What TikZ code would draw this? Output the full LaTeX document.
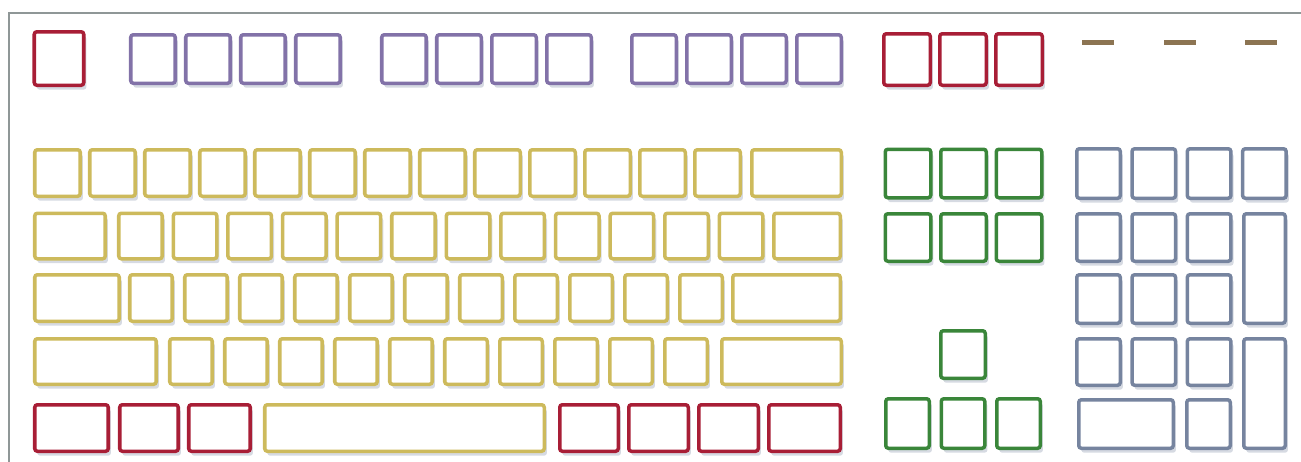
\documentclass[tikz,border=0pt]{standalone}
\usepackage{tikz}
\usetikzlibrary{shadows}
\usepackage{xcolor}
\definecolor{keyred}{HTML}{A81E36}
\definecolor{keypurple}{HTML}{8272A8}
\definecolor{keyyellow}{HTML}{CDBA5C}
\definecolor{keygreen}{HTML}{3A863A}
\definecolor{keyblue}{HTML}{76849F}
\definecolor{ledbrown}{HTML}{8C7452}
\definecolor{framegray}{HTML}{8F9797}

\begin{document}
\begin{tikzpicture}[
    x=0.02cm, y=-0.02cm,
    key/.style={draw=#1, line width=2pt, fill=white, rounded corners=1.5pt, inner sep=0pt, outer sep=0pt,
        drop shadow={shadow xshift=1.5pt, shadow yshift=-2.5pt, opacity=0.3, fill=keyblue}},
    kw/.style={minimum width={(#1-3.5)*0.02cm}},
    kh/.style={minimum height={(#1-3.5)*0.02cm}},
    led/.style={fill=ledbrown, minimum width=0.64cm, minimum height=0.1cm, inner sep=0pt},
]
\useasboundingbox (0,0) rectangle (1301,461);
\draw[framegray, line width=1.4pt] (1302,13) -- (9,13) -- (9,462);

% function row
\node[key=keyred, kw=53, kh=57] (Esc) at (59,58.5) {};
\foreach \i in {1,...,4} \node[key=keypurple, kw=48, kh=52] (F\i) at ({98+55*\i},59) {};
\foreach \i in {5,...,8} \node[key=keypurple, kw=48, kh=52] (F\i) at ({404+55*(\i-5)},59) {};
\foreach \i in {9,...,12} \node[key=keypurple, kw=48, kh=52] (F\i) at ({654+55*(\i-9)},59) {};
\foreach \n [count=\i from 0] in {Prt,Scr,Pau} \node[key=keyred, kw=50, kh=55] (\n) at ({907+56*\i},59.5) {};
\foreach \n/\x in {Num/1097.5,Caps/1179.5,Scroll/1260.5} \node[led] (L\n) at (\x,42.5) {};

% main block
\foreach \i in {0,...,12} \node[key=keyyellow, kw=49, kh=50] (N\i) at ({57.5+55*\i},173) {};
\node[key=keyyellow, kw=93, kh=50] (Bksp) at (796.5,173) {};

\node[key=keyyellow, kw=74, kh=49] (Tab) at (70,236) {};
\foreach \i in {0,...,11} \node[key=keyyellow, kw=47, kh=49] (Q\i) at ({140.5+54.6*\i},236) {};
\node[key=keyyellow, kw=70, kh=49] (Bslash) at (807,236) {};

\node[key=keyyellow, kw=88, kh=50] (CapsLk) at (77,298) {};
\foreach \i in {0,...,10} \node[key=keyyellow, kw=46, kh=50] (A\i) at ({151+55*\i},298) {};
\node[key=keyyellow, kw=111, kh=50] (Enter) at (786.5,298) {};

\node[key=keyyellow, kw=125, kh=49] (LShift) at (95.5,361.5) {};
\foreach \i in {0,...,9} \node[key=keyyellow, kw=46, kh=49] (Z\i) at ({191+55*\i},361.5) {};
\node[key=keyyellow, kw=123, kh=49] (RShift) at (781.5,361.5) {};

\foreach \n/\x/\w in {LCtrl/71.5/77,LWin/149/62,LAlt/219.5/65} \node[key=keyred, kw=\w, kh=50] (\n) at (\x,428) {};
\node[key=keyyellow, kw=283, kh=50] (Space) at (404.5,428) {};
\foreach \n/\x/\w in {RAlt/589/62,RWin/658.5/63,Menu/728.5/63,RCtrl/804.5/75} \node[key=keyred, kw=\w, kh=50] (\n) at (\x,428) {};

% navigation + arrows
\foreach \n [count=\i from 0] in {Ins,Home,PgUp} \node[key=keygreen, kw=49, kh=52] (\n) at ({908+55.5*\i},173.5) {};
\foreach \n [count=\i from 0] in {Del,End,PgDn} \node[key=keygreen, kw=49, kh=51] (\n) at ({908+55.5*\i},237.5) {};
\node[key=keygreen, kw=48, kh=51] (Up) at (963,354.5) {};
\foreach \n [count=\i from 0] in {Left,Down,Right} \node[key=keygreen, kw=47, kh=53] (\n) at ({907.5+55.5*\i},423.5) {};

% numeric pad
\foreach \n [count=\i from 0] in {NumLk,Div,Mul,Sub} \node[key=keyblue, kw=47, kh=53] (\n) at ({1098.5+55.3*\i},173.5) {};
\foreach \n [count=\i from 0] in {P7,P8,P9} \node[key=keyblue, kw=47, kh=51] (\n) at ({1098.5+55.3*\i},237.5) {};
\foreach \n [count=\i from 0] in {P4,P5,P6} \node[key=keyblue, kw=47, kh=52] (\n) at ({1098.5+55.3*\i},299) {};
\foreach \n [count=\i from 0] in {P1,P2,P3} \node[key=keyblue, kw=47, kh=50] (\n) at ({1098.5+55.3*\i},362) {};
\node[key=keyblue, kw=45, kh=113] (Plus) at (1264.5,268.5) {};
\node[key=keyblue, kw=45, kh=113] (PEnter) at (1264.5,393.5) {};
\node[key=keyblue, kw=98, kh=52] (P0) at (1126,424) {};
\node[key=keyblue, kw=47, kh=52] (PDot) at (1208.5,424) {};
\end{tikzpicture}
\end{document}
